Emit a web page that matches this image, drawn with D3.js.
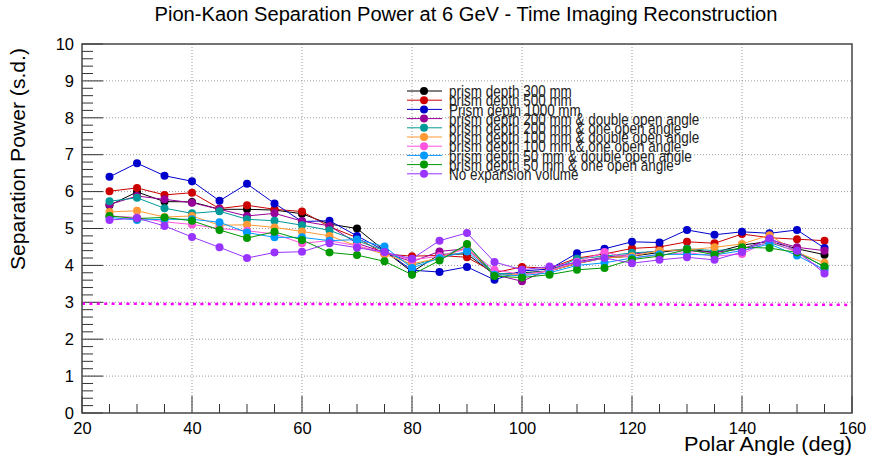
<!DOCTYPE html>
<html><head><meta charset="utf-8">
<script src="https://cdn.jsdelivr.net/npm/d3@7"></script>
<style>body{margin:0;background:#fff;overflow:hidden}</style>
</head><body>
<svg id="c" width="877" height="458" xmlns="http://www.w3.org/2000/svg"></svg>
<script>
// ---- data ----
const angles = [25,30,35,40,45,50,55,60,65,70,75,80,85,90,95,100,105,110,115,120,125,130,135,140,145,150,155];
const seriesNames = [
  "prism depth 300 mm",
  "prism depth 500 mm",
  "Prism depth 1000 mm",
  "prism depth 200 mm & double open angle",
  "prism depth 200 mm & one open angle",
  "prism depth 100 mm & double open angle",
  "prism depth 100 mm & one open angle",
  "prism depth 50 mm & double open angle",
  "prism depth 50 mm & one open angle",
  "No expansion volume"
];
const seriesColors = ["#000000","#cc0000","#0000cc","#990099","#009999","#ff9933","#ff55dd","#0099ff","#009900","#9933ff"];
const prism300 = [5.63,5.99,5.73,5.72,5.52,5.52,5.50,5.40,5.12,5.00,4.40,3.82,4.30,4.31,3.75,3.80,3.85,4.05,4.20,4.25,4.35,4.45,4.35,4.55,4.65,4.45,4.29];
const prism500 = [6.01,6.10,5.91,5.97,5.54,5.63,5.52,5.46,5.05,4.75,4.31,4.25,4.27,4.22,3.80,3.96,3.92,4.20,4.31,4.46,4.50,4.64,4.60,4.85,4.75,4.71,4.67];
const prism1000 = [6.40,6.77,6.43,6.28,5.75,6.21,5.68,5.19,5.21,4.80,4.40,3.87,3.82,3.96,3.61,3.85,3.90,4.33,4.45,4.64,4.62,4.96,4.83,4.91,4.87,4.96,4.47];
const prism200double = [5.65,5.88,5.79,5.70,5.52,5.34,5.41,5.20,5.07,4.60,4.35,4.10,4.38,4.45,3.75,3.57,3.90,4.10,4.22,4.30,4.40,4.40,4.35,4.45,4.70,4.49,4.40];
const prism200one = [5.74,5.83,5.55,5.41,5.47,5.25,5.21,5.09,4.95,4.67,4.40,4.00,4.20,4.54,3.78,3.78,3.85,4.18,4.25,4.34,4.38,4.45,4.40,4.45,4.62,4.38,3.95];
const prism100double = [5.45,5.48,5.31,5.34,5.09,5.10,5.03,4.92,4.80,4.53,4.30,4.04,4.20,4.49,3.75,3.75,3.85,4.05,4.20,4.25,4.40,4.42,4.49,4.58,4.82,4.35,4.07];
const prism100one = [5.34,5.30,5.18,5.11,5.00,4.94,4.85,4.60,4.67,4.53,4.35,4.15,4.25,4.45,3.88,3.75,3.85,4.10,4.36,4.20,4.28,4.35,4.25,4.31,4.67,4.35,3.85];
const prism50double = [5.30,5.23,5.25,5.25,5.17,4.89,4.76,4.76,4.67,4.70,4.51,3.93,4.20,4.38,3.75,3.72,3.80,4.00,4.07,4.20,4.30,4.30,4.28,4.40,4.58,4.27,3.88];
const prism50one = [5.34,5.27,5.30,5.21,4.96,4.74,4.91,4.69,4.35,4.28,4.11,3.75,4.13,4.58,3.71,3.67,3.75,3.88,3.93,4.16,4.25,4.43,4.29,4.49,4.47,4.35,3.97];
const noExpansion = [5.23,5.28,5.07,4.77,4.49,4.20,4.35,4.37,4.60,4.48,4.36,4.18,4.67,4.88,4.09,3.88,3.97,4.07,4.20,4.06,4.15,4.22,4.15,4.36,4.73,4.40,3.78];
const allSeries = [prism300,prism500,prism1000,prism200double,prism200one,prism100double,prism100one,prism50double,prism50one,noExpansion];
const thresholdX = [20,160];
const thresholdY = [2.96,2.93];
const xTicks = [20,40,60,80,100,120,140,160];
const yTicks = [0,1,2,3,4,5,6,7,8,9,10];
const titleText = "Pion-Kaon Separation Power at 6 GeV - Time Imaging Reconstruction";
const xLabel = "Polar Angle (deg)";
const yLabel = "Separation Power (s.d.)";

// ---- layout ----
const L = 82, R = 852, T = 44, B = 413;
const svg = d3.select("#c");
const font = "'Liberation Sans', Arial, Helvetica, sans-serif";
const x = d3.scaleLinear().domain([20,160]).range([L,R]);
const y = d3.scaleLinear().domain([0,10]).range([B,T]);

svg.append("rect").attr("width",877).attr("height",458).attr("fill","#fff");

// grid
const grid = svg.append("g").attr("stroke","#999").attr("stroke-width",1).attr("stroke-dasharray","1,2");
xTicks.slice(1,-1).forEach(v=>grid.append("line").attr("x1",x(v)).attr("x2",x(v)).attr("y1",T).attr("y2",B));
yTicks.slice(1,-1).forEach(v=>grid.append("line").attr("y1",y(v)).attr("y2",y(v)).attr("x1",L).attr("x2",R));

// axes with inward ticks
const xMinor = d3.range(20,160.1,5);
const yMinor = d3.range(0,10.01,0.2);
const ax = svg.append("g").attr("stroke","#333").attr("stroke-width",1);
xMinor.forEach(v=>{
  const major = xTicks.includes(Math.round(v));
  ax.append("line").attr("x1",x(v)).attr("x2",x(v)).attr("y1",B).attr("y2",B-(major?17:9));
});
yMinor.forEach(v=>{
  const major = Math.abs(v-Math.round(v))<1e-6;
  ax.append("line").attr("y1",y(v)).attr("y2",y(v)).attr("x1",L).attr("x2",L+(major?21:11));
});

// tick labels via d3 axes (text only)
const xAxisG = svg.append("g").attr("transform",`translate(0,${B})`)
  .call(d3.axisBottom(x).tickValues(xTicks).tickSize(0).tickPadding(9));
xAxisG.select(".domain").remove();
xAxisG.selectAll("text").attr("font-family",font).attr("font-size",16.5).attr("fill","#000");
const yAxisG = svg.append("g").attr("transform",`translate(${L},0)`)
  .call(d3.axisLeft(y).tickValues(yTicks).tickSize(0).tickPadding(8));
yAxisG.select(".domain").remove();
yAxisG.selectAll("text").attr("font-family",font).attr("font-size",16.5).attr("fill","#000");

// threshold line
svg.append("line").attr("x1",x(thresholdX[0])).attr("x2",x(thresholdX[1]))
  .attr("y1",y(thresholdY[0])).attr("y2",y(thresholdY[1]))
  .attr("stroke","#ff00ff").attr("stroke-width",2.5).attr("stroke-dasharray","3,4.4");

// series
const line = d3.line().x((d,i)=>x(angles[i])).y(d=>y(d));
allSeries.forEach((s,k)=>{
  const g = svg.append("g");
  g.append("path").attr("d",line(s)).attr("fill","none").attr("stroke",seriesColors[k]).attr("stroke-width",1);
  g.selectAll("circle").data(s).join("circle")
    .attr("cx",(d,i)=>x(angles[i])).attr("cy",d=>y(d)).attr("r",4).attr("fill",seriesColors[k]);
});

// frame
svg.append("rect").attr("x",L).attr("y",T).attr("width",R-L).attr("height",B-T)
  .attr("fill","none").attr("stroke","#444").attr("stroke-width",1.5);

// legend
const lg = svg.append("g");
const legY0 = 91, legDy = 9.2;
seriesNames.forEach((n,k)=>{
  const yy = legY0 + k*legDy;
  lg.append("line").attr("x1",407).attr("x2",442).attr("y1",yy).attr("y2",yy).attr("stroke",seriesColors[k]).attr("stroke-width",1);
  lg.append("circle").attr("cx",424).attr("cy",yy).attr("r",4).attr("fill",seriesColors[k]);
  lg.append("text").attr("class","legt").attr("x",449).attr("y",yy).attr("dy","0.36em")
    .attr("font-family",font).attr("font-size",17).attr("fill","#222").text(n);
});
// compress legend text horizontally to match reference width
const t0 = lg.select(".legt").node();
const w0 = t0.getComputedTextLength();
const sx = 123 / w0;
lg.selectAll(".legt").attr("transform",`translate(${449*(1-sx)},0) scale(${sx},1)`);

// title
svg.append("text").attr("x",466).attr("y",21).attr("text-anchor","middle")
  .attr("font-family",font).attr("font-size",20).attr("fill","#000")
  .attr("textLength",623).attr("lengthAdjust","spacingAndGlyphs").text(titleText);

// axis titles
svg.append("text").attr("x",852).attr("y",451).attr("text-anchor","end")
  .attr("font-family",font).attr("font-size",21).attr("fill","#000")
  .attr("textLength",168).attr("lengthAdjust","spacingAndGlyphs").text(xLabel);
svg.append("text").attr("transform","translate(25,159) rotate(-90)").attr("text-anchor","middle")
  .attr("font-family",font).attr("font-size",21).attr("fill","#000")
  .attr("textLength",222).attr("lengthAdjust","spacingAndGlyphs").text(yLabel);
</script>
</body></html>
